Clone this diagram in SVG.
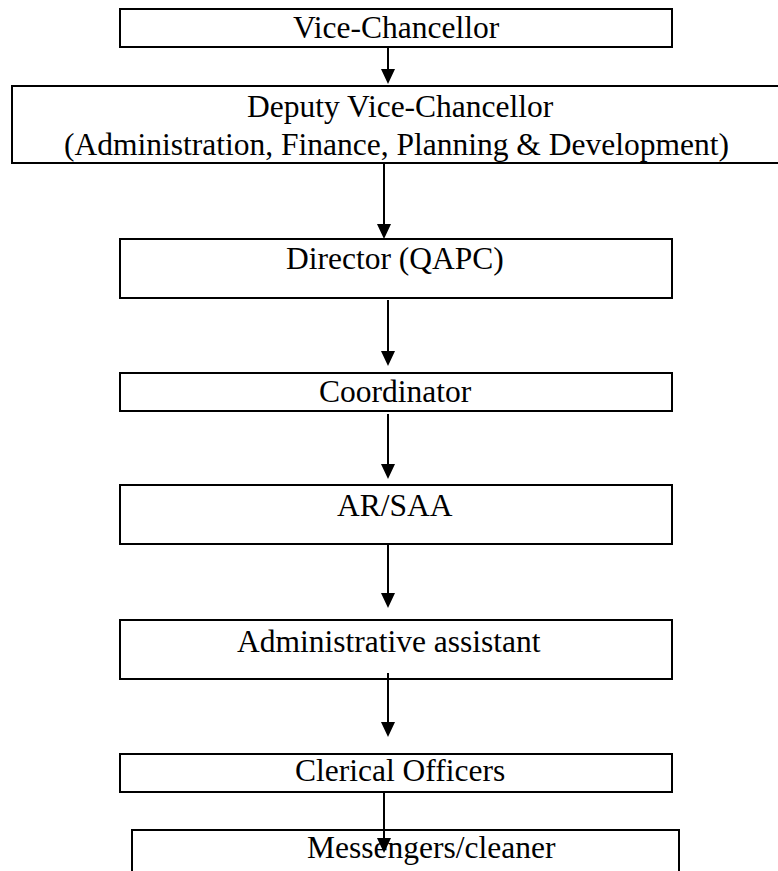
<svg xmlns="http://www.w3.org/2000/svg" width="778" height="871" viewBox="0 0 778 871">
<style>
.box{fill:#fff;stroke:#000;stroke-width:2}
.t{font-family:"Liberation Serif","Times New Roman",serif;font-size:31.5px;fill:#000}
.c{stroke:#000;stroke-width:2;fill:none}
</style>
<defs>
<marker id="ah" viewBox="0 0 15 14" refX="12" refY="7" markerWidth="15" markerHeight="14" markerUnits="userSpaceOnUse" orient="auto">
<path d="M0,0 L15,7 L0,14 z" fill="#000"/>
</marker>
</defs>
<rect width="778" height="871" fill="#fff"/>
<g id="vc"><rect class="box" x="120" y="9" width="552" height="38"/><text class="t" x="293" y="37.5">Vice-Chancellor</text></g>
<g id="dvc"><rect class="box" x="12" y="86" width="790" height="77"/><text class="t" x="247" y="117">Deputy Vice-Chancellor</text><text class="t" x="64" y="155">(Administration, Finance, Planning &amp; Development)</text></g>
<g id="director"><rect class="box" x="120" y="239" width="552" height="59"/><text class="t" x="286" y="269">Director (QAPC)</text></g>
<g id="coordinator"><rect class="box" x="120" y="373" width="552" height="38"/><text class="t" x="319" y="401.5">Coordinator</text></g>
<g id="arsaa"><rect class="box" x="120" y="485" width="552" height="59"/><text class="t" x="337" y="515.5">AR/SAA</text></g>
<g id="admin"><rect class="box" x="120" y="620" width="552" height="59"/><text class="t" x="237" y="651.5">Administrative assistant</text></g>
<g id="clerical"><rect class="box" x="120" y="754" width="552" height="38"/><text class="t" x="295" y="781">Clerical Officers</text></g>
<g id="messengers"><rect class="box" x="132" y="830" width="547" height="60"/><text class="t" x="307" y="858">Messengers/cleaner</text></g>
<g id="connectors">
<line class="c" x1="388" y1="47" x2="388" y2="81" marker-end="url(#ah)"/>
<line class="c" x1="384" y1="163" x2="384" y2="236" marker-end="url(#ah)"/>
<line class="c" x1="388" y1="300" x2="388" y2="363" marker-end="url(#ah)"/>
<line class="c" x1="388" y1="414" x2="388" y2="476" marker-end="url(#ah)"/>
<line class="c" x1="388" y1="543" x2="388" y2="605" marker-end="url(#ah)"/>
<line class="c" x1="388" y1="673" x2="388" y2="734" marker-end="url(#ah)"/>
<line class="c" x1="384" y1="793" x2="384" y2="850" marker-end="url(#ah)"/>
</g>
</svg>
